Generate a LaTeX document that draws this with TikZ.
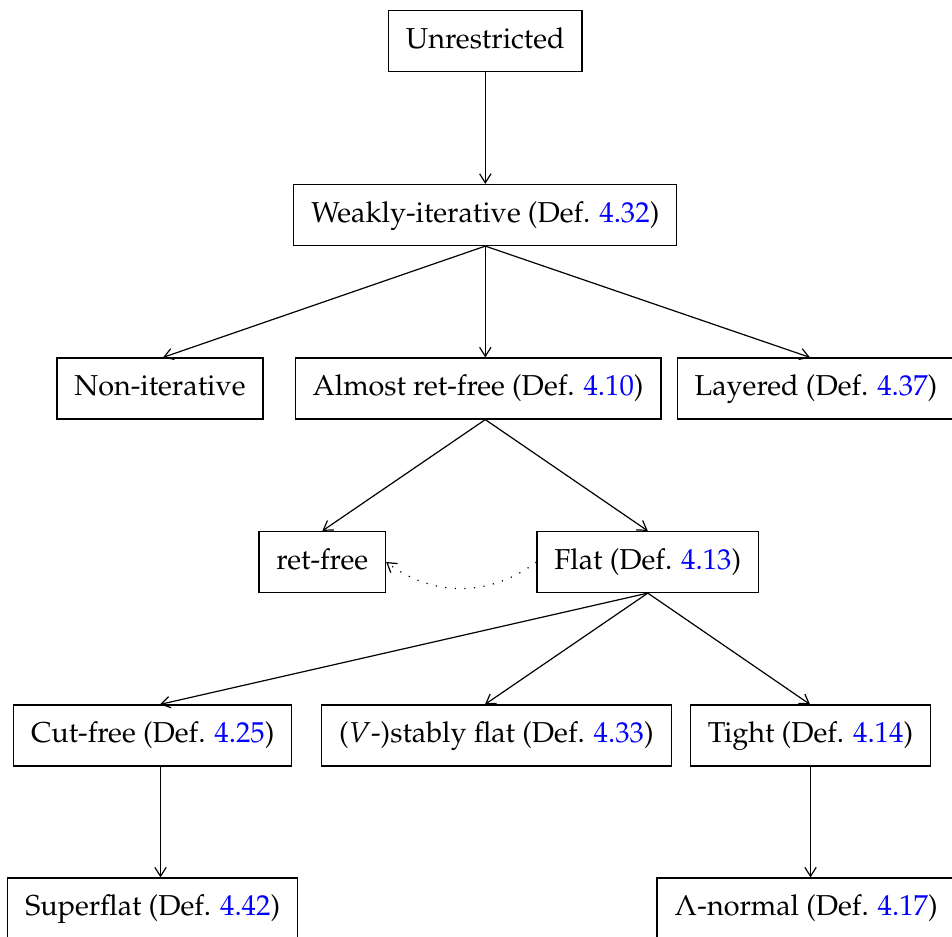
\documentclass[tikz,border=0pt]{standalone}
\usepackage[T1]{fontenc}
\usepackage{mathpazo}
\usepackage{xcolor}
\usetikzlibrary{calc,arrows.meta}
\begin{document}
\begin{tikzpicture}[x=0.33333pt,y=-0.33333pt,
  box/.style={draw,font=\fontsize{9.6pt}{11pt}\selectfont,inner xsep=5.8pt,inner ysep=0pt,minimum height=20.33pt,text height=7.2pt,text depth=2.4pt},
  tip/.tip={Straight Barb[length=3pt,width=3.8pt,line width=0.4pt]},
  link/.style={-tip},
  weak link/.style={-tip,dash pattern=on 0.4pt off 2.8pt}]
\useasboundingbox (0,0) rectangle (952,936);
\newcommand{\dref}[1]{\textcolor{blue}{#1}}
\node[box] (unr) at (485.3,41) {Unrestricted};
\node[box] (weak) at (485.3,215) {Weakly-iterative (Def. \dref{4.32})};
\node[box] (non) at (160,388.5) {Non-iterative};
\node[box] (almost) at (478,388.5) {Almost ret-free (Def. \dref{4.10})};
\node[box] (layered) at (816,388.5) {Layered (Def. \dref{4.37})};
\node[box] (retfree) at (322.3,562) {ret-free};
\node[box] (flat) at (647.8,562) {Flat (Def. \dref{4.13})};
\node[box] (cut) at (152.7,735.5) {Cut-free (Def. \dref{4.25})};
\node[box] (stably) at (496.4,735.5) {($V$-)stably flat (Def. \dref{4.33})};
\node[box] (tight) at (810.5,735.5) {Tight (Def. \dref{4.14})};
\node[box] (super) at (152.7,908.5) {Superflat (Def. \dref{4.42})};
\node[box] (lam) at (806,908.5) {$\Lambda$-normal (Def. \dref{4.17})};
\draw[link] (unr.south) -- (weak.north);
\draw[link] (weak.south) -- ($(non.north)+(3,0)$);
\draw[link] (weak.south) -- ($(almost.north)+(7.3,0)$);
\draw[link] (weak.south) -- ($(layered.north)+(-6,0)$);
\draw[link] ($(almost.south)+(7.3,0)$) -- (retfree.north);
\draw[link] ($(almost.south)+(7.3,0)$) -- (flat.north);
\draw[link] (flat.south) -- ($(cut.north)+(7.3,0)$);
\draw[link] (flat.south) -- ($(stably.north)+(-11.4,0)$);
\draw[link] (flat.south) -- ($(tight.north)+(-0.5,0)$);
\draw[link] ($(cut.south)+(7.8,0)$) -- ($(super.north)+(7.8,0)$);
\draw[link] (tight.south) -- ($(lam.north)+(4.5,0)$);
\draw[weak link] (flat.west) to[bend left=37] (retfree.east);
\end{tikzpicture}
\end{document}
